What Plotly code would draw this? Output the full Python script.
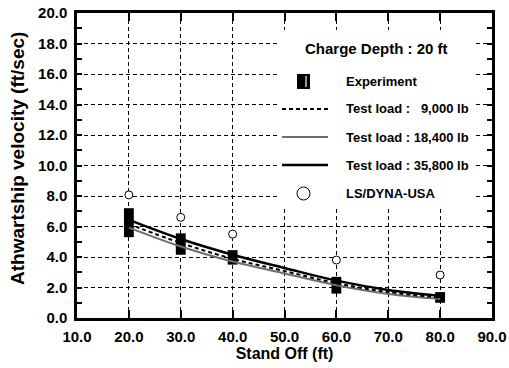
import plotly.graph_objects as go

# ---------------- data ----------------
exp_x = [20, 30, 40, 60, 80]
exp_low = [5.3, 4.15, 3.5, 1.6, 1.0]
exp_high = [7.2, 5.55, 4.45, 2.7, 1.7]

dyna_x = [20, 30, 40, 60, 80]
dyna_y = [8.07, 6.6, 5.5, 3.8, 2.82]

curve_x = [20, 30, 40, 50, 60, 70, 80]
load_9000 = [6.16, 4.92, 3.88, 3.08, 2.28, 1.70, 1.34]
load_18400 = [5.93, 4.69, 3.70, 2.92, 2.15, 1.58, 1.25]
load_35800 = [6.43, 5.18, 4.15, 3.28, 2.45, 1.84, 1.45]

legend_title = "Charge Depth : 20 ft"
legend_labels = ["Experiment", "Test load :\u00a0\u00a0 9,000 lb", "Test load : 18,400 lb",
                 "Test load : 35,800 lb", "LS/DYNA-USA"]
x_title = "Stand Off (ft)"
y_title = "Athwartship velocity (ft/sec)"

# ---------------- figure ----------------
W, H = 509, 368
ML, MR, MT, MB = 77, 17, 13, 50
PW, PH = W - ML - MR, H - MT - MB

def px(x):
    return (x - ML) / PW

def py(y):
    return (H - MB - y) / PH

FONT = "Liberation Sans"

fig = go.Figure()

fig.add_trace(go.Scatter(x=curve_x, y=load_18400, mode="lines", line=dict(color="#6e6e6e", width=2, shape="spline"),
                         name=legend_labels[2], showlegend=False))
fig.add_trace(go.Scatter(x=curve_x, y=load_9000, mode="lines", line=dict(color="black", width=2, dash="4px,3px", shape="spline"),
                         name=legend_labels[1], showlegend=False))
fig.add_trace(go.Scatter(x=curve_x, y=load_35800, mode="lines", line=dict(color="black", width=2.5, shape="spline"),
                         name=legend_labels[3], showlegend=False))
fig.add_trace(go.Bar(x=exp_x, base=exp_low, y=[h - l for h, l in zip(exp_high, exp_low)], width=1.9,
                     marker=dict(color="black", line=dict(width=0)), name=legend_labels[0], showlegend=False))
fig.add_trace(go.Scatter(x=dyna_x, y=dyna_y, mode="markers",
                         marker=dict(symbol="circle", size=8, color="white", line=dict(color="black", width=1)),
                         name=legend_labels[4], showlegend=False))

# ---------------- manual legend ----------------
shapes = []
annotations = []
shapes.append(dict(type="rect", xref="paper", yref="paper", x0=px(280), x1=px(473), y0=py(207), y1=py(30),
                   fillcolor="white", line=dict(width=0), layer="above"))
annotations.append(dict(xref="paper", yref="paper", x=px(376), y=py(49), text=legend_title, showarrow=False,
                        xanchor="center", yanchor="middle", font=dict(family=FONT, size=15, color="black", weight="bold")))
row_y = [81, 109, 137, 165, 193]
# experiment symbol
shapes.append(dict(type="rect", xref="paper", yref="paper", x0=px(297), x1=px(310), y0=py(89), y1=py(74),
                   fillcolor="black", line=dict(width=0), layer="above"))
shapes.append(dict(type="line", xref="paper", yref="paper", x0=px(306), x1=px(306), y0=py(87), y1=py(76),
                   line=dict(color="white", width=1.2), layer="above"))
# line samples
styles = [dict(color="black", width=2, dash="4px,3px"), dict(color="#6e6e6e", width=2), dict(color="black", width=2.5)]
for yy, st in zip(row_y[1:4], styles):
    shapes.append(dict(type="line", xref="paper", yref="paper", x0=px(282), x1=px(328), y0=py(yy), y1=py(yy),
                       line=st, layer="above"))
# circle
shapes.append(dict(type="circle", xref="paper", yref="paper", x0=px(297), x1=px(310), y0=py(200), y1=py(187),
                   fillcolor="white", line=dict(color="black", width=1), layer="above"))
for yy, lab in zip(row_y, legend_labels):
    annotations.append(dict(xref="paper", yref="paper", x=px(344), y=py(yy), text=lab, showarrow=False,
                            xanchor="left", yanchor="middle", font=dict(family=FONT, size=13, color="black", weight="bold")))

# y axis title
annotations.append(dict(xref="paper", yref="paper", x=px(17), y=py(159), text=y_title, showarrow=False, textangle=-90,
                        xanchor="center", yanchor="middle", font=dict(family=FONT, size=19, color="black", weight="bold")))

tickfont = dict(family=FONT, size=15, color="black", weight="bold")
titlefont = dict(family=FONT, size=16, color="black", weight="bold")

fig.update_xaxes(range=[10, 90], tick0=10, dtick=10, tickformat=".1f", showline=True, linewidth=2.5, linecolor="black",
                 mirror="allticks", ticks="inside", ticklen=8, tickwidth=1.5, tickcolor="black",
                 showgrid=True, gridcolor="black", gridwidth=1, griddash="4px,3px", zeroline=False,
                 tickfont=tickfont, ticklabelstandoff=3,
                 title=dict(text=x_title, font=titlefont, standoff=1))
fig.update_yaxes(range=[0, 20], tick0=0, dtick=2, tickformat=".1f", showline=True, linewidth=2.5, linecolor="black",
                 mirror="allticks", ticks="inside", ticklen=5, tickwidth=1.5, tickcolor="black",
                 minor=dict(dtick=1, ticks="inside", ticklen=5, tickwidth=1.5, tickcolor="black", showgrid=False),
                 showgrid=True, gridcolor="black", gridwidth=1, griddash="4px,3px", zeroline=False,
                 tickfont=tickfont, ticklabelstandoff=4)

fig.update_layout(width=W, height=H, margin=dict(l=ML, r=MR, t=MT, b=MB, autoexpand=False),
                  plot_bgcolor="white", paper_bgcolor="white", showlegend=False,
                  shapes=shapes, annotations=annotations)

fig.write_html("out.html")
